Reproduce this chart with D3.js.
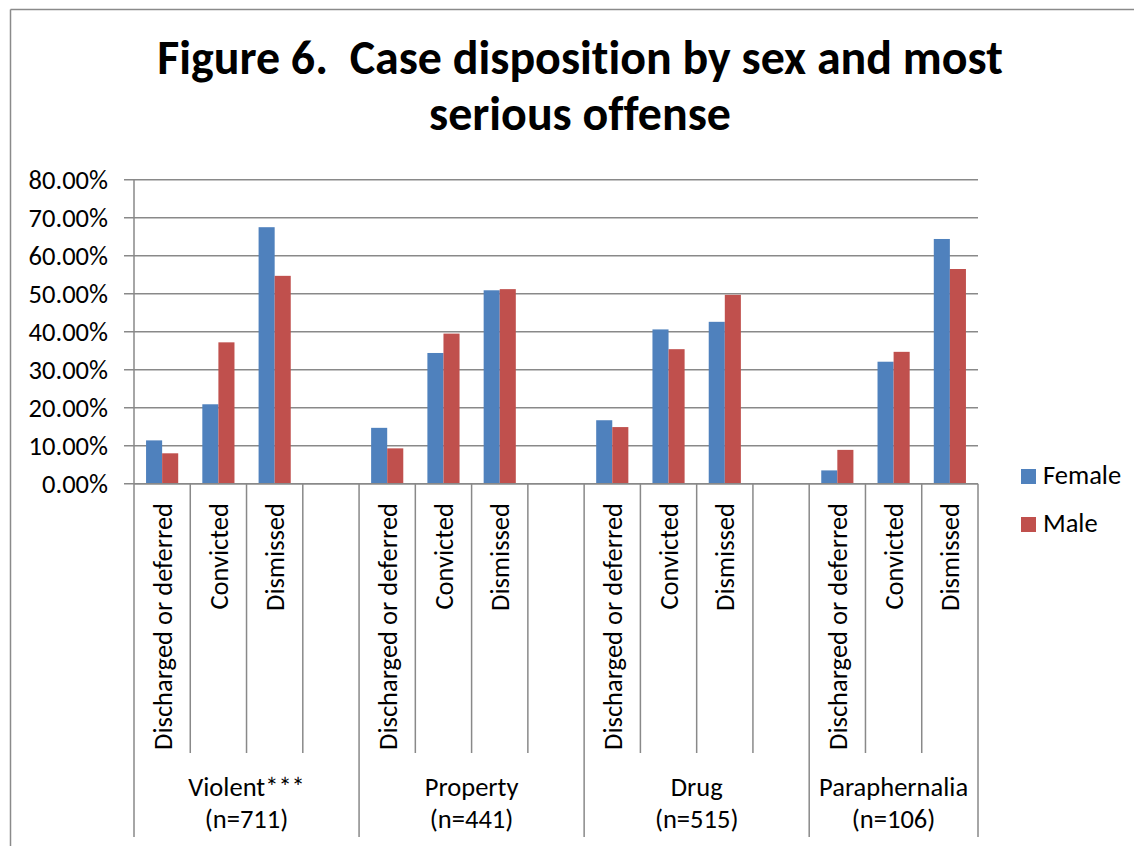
<!DOCTYPE html>
<html>
<head>
<meta charset="utf-8">
<script src="https://cdn.jsdelivr.net/npm/d3@7"></script>
<style>
  html, body { margin: 0; padding: 0; background: #fff; overflow: hidden; }
  svg { display: block; }
  text { font-family: Carlito, Calibri, Lato, "Open Sans", sans-serif; fill: #000; font-variant-ligatures: none; }
</style>
</head>
<body>
<svg id="chart" width="1134" height="846"></svg>
<script>
// ---- data ----
const titleLines = ["Figure 6.  Case disposition by sex and most", "serious offense"];
const groups = ["Violent***", "Property", "Drug", "Paraphernalia"];
const groupN = ["(n=711)", "(n=441)", "(n=515)", "(n=106)"];
const dispositions = ["Discharged or deferred", "Convicted", "Dismissed"];
const seriesNames = ["Female", "Male"];
const seriesColors = ["#4F81BD", "#C0504D"];
// values in percent, order: group x disposition
const femaleValues = [11.4, 20.9, 67.5, 14.7, 34.4, 50.9, 16.7, 40.6, 42.6, 3.5, 32.1, 64.4];
const maleValues   = [ 8.0, 37.2, 54.7,  9.3, 39.5, 51.2, 14.9, 35.4, 49.7, 8.9, 34.7, 56.5];
const yTicks = [0, 10, 20, 30, 40, 50, 60, 70, 80];

// ---- layout ----
const svg = d3.select("#chart");
const plot = { left: 134, right: 978, top: 179.7, bottom: 483.7 };
const gridColor = "#898989";

// frame (only top and left edges are visible in the reference)
svg.append("line").attr("x1", 10.5).attr("x2", 1134).attr("y1", 9.5).attr("y2", 9.5)
  .attr("stroke", "#8a8a8a").attr("stroke-width", 1.5);
svg.append("line").attr("x1", 10.5).attr("x2", 10.5).attr("y1", 9.5).attr("y2", 846)
  .attr("stroke", "#8a8a8a").attr("stroke-width", 1.5);

// build slots: each group has its dispositions, and a blank slot between groups
const slots = [];
groups.forEach((g, gi) => {
  dispositions.forEach((d, di) => slots.push({ id: gi + "-" + di, group: gi, disp: di, idx: gi * 3 + di }));
  if (gi < groups.length - 1) slots.push({ id: gi + "-blank", group: gi, disp: null });
});

const x = d3.scaleBand().domain(slots.map(s => s.id)).range([plot.left, plot.right]).padding(0);
const xs = d3.scaleBand().domain(seriesNames).range([0, x.bandwidth()]).paddingInner(0).paddingOuter(0.75);
const y = d3.scaleLinear().domain([0, 80]).range([plot.bottom, plot.top]);

// gridlines + y ticks
svg.append("g").selectAll("line").data(yTicks).join("line")
  .attr("x1", plot.left - 10).attr("x2", plot.right)
  .attr("y1", d => y(d)).attr("y2", d => y(d))
  .attr("stroke", gridColor).attr("stroke-width", 1.5);

// y axis line
svg.append("line").attr("x1", plot.left).attr("x2", plot.left)
  .attr("y1", plot.top).attr("y2", plot.bottom)
  .attr("stroke", gridColor).attr("stroke-width", 1.5);

const fs = 26;
const yLab = svg.append("g").selectAll("text").data(yTicks).join("text")
  .attr("x", 108).attr("y", d => y(d)).attr("dy", "0.35em")
  .attr("text-anchor", "end").style("font-size", fs + "px")
  .text(d => d.toFixed(2) + "%");

// bars
const barData = [];
slots.filter(s => s.disp !== null).forEach(s => {
  barData.push({ slot: s.id, series: "Female", v: femaleValues[s.idx], c: seriesColors[0] });
  barData.push({ slot: s.id, series: "Male", v: maleValues[s.idx], c: seriesColors[1] });
});
svg.append("g").selectAll("rect").data(barData).join("rect")
  .attr("x", d => x(d.slot) + xs(d.series))
  .attr("width", xs.bandwidth())
  .attr("y", d => y(d.v))
  .attr("height", d => y(0) - y(d.v))
  .attr("fill", d => d.c);

// x axis baseline
svg.append("line").attr("x1", plot.left).attr("x2", plot.right)
  .attr("y1", plot.bottom).attr("y2", plot.bottom)
  .attr("stroke", gridColor).attr("stroke-width", 1.5);

// category separators
const catBottom = 753, groupBottom = 837;
const boundaries = slots.map(s => x(s.id)).concat([plot.right]);
const groupStarts = new Set();
groups.forEach((g, gi) => groupStarts.add(x(gi + "-0")));
groupStarts.add(plot.right);
svg.append("g").selectAll("line").data(boundaries).join("line")
  .attr("x1", d => d).attr("x2", d => d)
  .attr("y1", plot.bottom).attr("y2", d => groupStarts.has(d) ? groupBottom : catBottom)
  .attr("stroke", gridColor).attr("stroke-width", 1.5);

// category labels (rotated)
const catLabels = svg.append("g").selectAll("text").data(slots.filter(s => s.disp !== null)).join("text")
  .attr("transform", d => `translate(${x(d.id) + x.bandwidth() / 2},503) rotate(-90)`)
  .attr("dy", "0.36em")
  .attr("text-anchor", "end")
  .style("font-size", fs + "px")
  .text(d => dispositions[d.disp]);

// group labels
const groupCenter = gi => {
  const lastSlot = gi < groups.length - 1 ? x(gi + "-blank") + x.bandwidth() : plot.right;
  return (x(gi + "-0") + lastSlot) / 2;
};
const gl = svg.append("g").selectAll("text").data(groups).join("text")
  .attr("x", (d, i) => groupCenter(i)).attr("y", 796)
  .attr("text-anchor", "middle").style("font-size", fs + "px")
  .text(d => d);
const gn = svg.append("g").selectAll("text").data(groupN).join("text")
  .attr("x", (d, i) => groupCenter(i)).attr("y", 828)
  .attr("text-anchor", "middle").style("font-size", fs + "px")
  .text(d => d);

// legend
const legend = svg.append("g").selectAll("g").data(seriesNames).join("g")
  .attr("transform", (d, i) => `translate(1021,${469 + i * 48})`);
legend.append("rect").attr("width", 15).attr("height", 15).attr("fill", (d, i) => seriesColors[i]);
const legText = legend.append("text").attr("x", 22).attr("y", 14.5).style("font-size", fs + "px").text(d => d);

// title
const title = svg.append("g").selectAll("text").data(titleLines).join("text")
  .attr("x", 580).attr("y", (d, i) => 74 + i * 56)
  .attr("text-anchor", "middle").style("font-weight", "bold").style("font-size", "45px")
  .style("white-space", "pre")
  .text(d => d);

// fit font sizes to the reference's text widths (font substitution for Calibri)
const t0 = title.nodes()[0];
const titleScale = 846 / t0.getComputedTextLength();
title.style("font-size", (45 * titleScale) + "px");
const c0 = catLabels.nodes()[0];
const regScale = 247 / c0.getComputedTextLength();
const regFs = fs * regScale;
[yLab, catLabels, gl, gn, legText].forEach(sel => sel.style("font-size", regFs + "px"));
</script>
</body>
</html>
